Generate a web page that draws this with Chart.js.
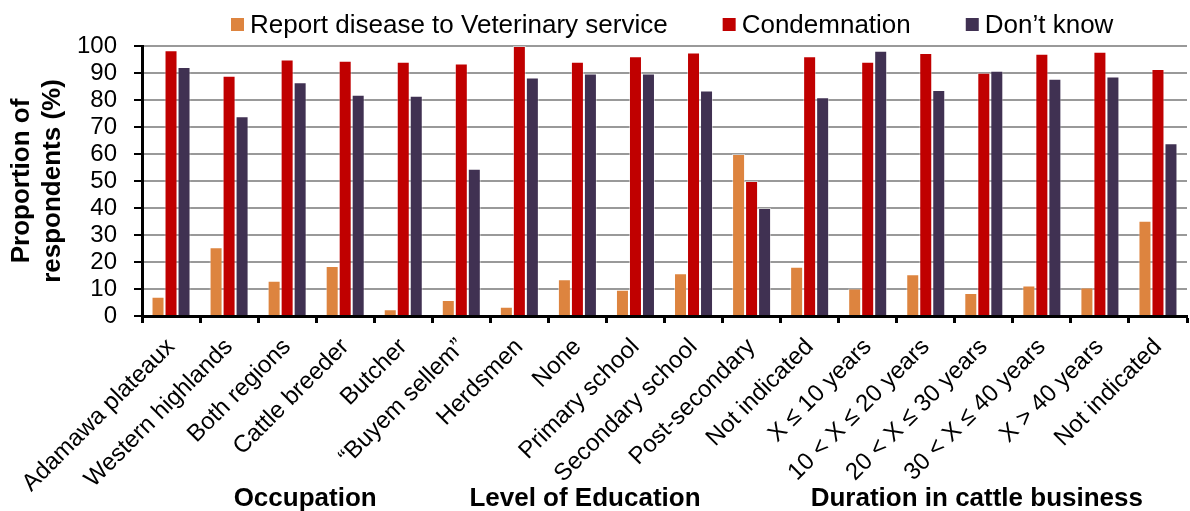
<!DOCTYPE html>
<html>
<head>
<meta charset="utf-8">
<script src="https://cdn.jsdelivr.net/npm/chart.js@4.4.1/dist/chart.umd.min.js"></script>
<style>
  html, body { margin: 0; padding: 0; background: #fff; }
  #wrap { width: 1190px; height: 511px; }
</style>
</head>
<body>
<div id="wrap"><canvas id="chart"></canvas></div>
<script>
const FONT = '"Liberation Sans", Arial, Helvetica, sans-serif';

const categories = [
  'Adamawa plateaux', 'Western highlands', 'Both regions',
  'Cattle breeder', 'Butcher', '\u201cBuyem sellem\u201d', 'Herdsmen',
  'None', 'Primary school', 'Secondary school', 'Post-secondary', 'Not indicated',
  'X \u2264 10 years', '10 < X \u2264 20 years', '20 < X \u2264 30 years',
  '30 < X \u2264 40 years', 'X > 40 years', 'Not indicated'
];

const reportDisease = [7.1, 25.5, 13.1, 18.5, 2.5, 5.9, 3.4, 13.6, 9.7, 15.8, 60, 18.2, 10.2, 15.5, 8.5, 11.3, 10.6, 35.3];
const condemnation  = [98.4, 89.0, 95.0, 94.5, 94.2, 93.5, 100, 94.2, 96.2, 97.6, 50, 96.2, 94.2, 97.4, 90.1, 97.1, 97.9, 91.5];
const dontKnow      = [92.2, 74.0, 86.6, 81.9, 81.6, 54.5, 88.3, 89.8, 89.8, 83.5, 40, 81.0, 98.2, 83.7, 90.8, 87.9, 88.7, 64.0];

const seriesNames = ['Report disease to Veterinary service', 'Condemnation', 'Don\u2019t know'];
const seriesColors = ['#DD843F', '#C00000', '#403152'];

const yTicks = [0, 10, 20, 30, 40, 50, 60, 70, 80, 90, 100];

// headings under the rotated labels, centred on a (fractional) category index
const groupHeadings = ['Occupation', 'Level of Education', 'Duration in cattle business'];
const groupCentres = [2.31, 7.13, 13.88];

// legend row across the top + bold group headings along the bottom
const extras = {
  id: 'extras',
  afterDraw(chart) {
    const ctx = chart.ctx;
    ctx.save();
    ctx.font = '26px ' + FONT;
    ctx.textBaseline = 'middle';
    ctx.textAlign = 'left';
    let x = 231;
    const y = 24.5;
    chart.data.datasets.forEach(ds => {
      ctx.fillStyle = ds.backgroundColor;
      ctx.fillRect(x, y - 6.5, 13, 13);
      ctx.fillStyle = '#000';
      ctx.fillText(ds.label, x + 19, y + 1);
      x += 19 + ctx.measureText(ds.label).width + 55;
    });

    const xs = chart.scales.x;
    ctx.font = 'bold 26px ' + FONT;
    ctx.textAlign = 'center';
    ctx.textBaseline = 'alphabetic';
    groupHeadings.forEach((h, i) => {
      ctx.fillText(h, xs.getPixelForValue(groupCentres[i]), 506);
    });
    ctx.restore();
  }
};

new Chart(document.getElementById('chart'), {
  type: 'bar',
  data: {
    labels: categories,
    datasets: [reportDisease, condemnation, dontKnow].map((d, i) => ({
      label: seriesNames[i],
      data: d,
      backgroundColor: seriesColors[i],
      borderColor: 'rgba(255,255,255,0.45)',
      borderWidth: 1,
      categoryPercentage: 0.672,
      barPercentage: 1.0
    }))
  },
  options: {
    responsive: true,
    maintainAspectRatio: false,
    animation: false,
    layout: { padding: { top: 46, right: 3, left: 0, bottom: 0 } },
    plugins: {
      legend: { display: false },
      tooltip: { enabled: false }
    },
    scales: {
      x: {
        offset: true,
        afterFit: s => { s.height = 195; },
        grid: {
          offset: true,
          drawOnChartArea: false,
          drawTicks: true,
          tickLength: 7,
          tickColor: '#000',
          tickWidth: 3
        },
        border: { color: '#000', width: 3 },
        ticks: {
          color: '#000',
          font: { family: FONT, size: 24 },
          maxRotation: 45,
          minRotation: 45,
          autoSkip: false,
          padding: 10
        }
      },
      y: {
        min: 0,
        max: 100,
        afterFit: s => { s.width = 142; },
        afterBuildTicks: s => { s.ticks = yTicks.map(v => ({ value: v })); },
        grid: {
          color: '#999',
          lineWidth: 2,
          tickColor: '#000',
          tickLength: 8,
          tickWidth: 2
        },
        border: { color: '#000', width: 3 },
        ticks: {
          color: '#000',
          font: { family: FONT, size: 24 },
          autoSkip: false,
          padding: 17
        },
        title: {
          display: true,
          text: ['Proportion of', 'respondents (%)'],
          color: '#000',
          font: { family: FONT, size: 26, weight: 'bold', lineHeight: 1.19 },
          padding: { top: 6.5, bottom: 0 }
        }
      }
    }
  },
  plugins: [extras]
});
</script>
</body>
</html>
